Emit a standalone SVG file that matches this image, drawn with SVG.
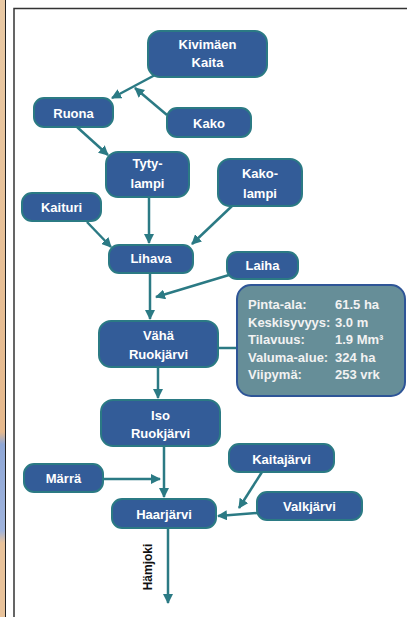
<svg xmlns="http://www.w3.org/2000/svg" width="407" height="617" viewBox="0 0 407 617">
<style>
.n{fill:#335c98;stroke:#2b7a84;stroke-width:2}
.t{font-family:"Liberation Sans",Arial,sans-serif;font-weight:bold;font-size:13px;fill:#fff;text-anchor:middle}
.c{stroke:#2b7a84;stroke-width:2.5;fill:none}
.a{marker-end:url(#ah)}
.i{font-family:"Liberation Sans",Arial,sans-serif;font-weight:bold;font-size:13px;fill:#f2f2f2}
</style>
<defs>
<marker id="ah" viewBox="0 0 10 10" refX="9" refY="5" markerWidth="4" markerHeight="4" orient="auto" markerUnits="strokeWidth">
<path d="M0,0 L10,5 L0,10 z" fill="#2b7a84"/>
</marker>
<linearGradient id="strip" x1="0" y1="0" x2="0" y2="1">
<stop offset="0" stop-color="#e9c9a4"/>
<stop offset="0.7" stop-color="#e6b98d"/>
<stop offset="0.72" stop-color="#8fa7d6"/>
<stop offset="0.86" stop-color="#9fb3dc"/>
<stop offset="0.88" stop-color="#e8c29a"/>
<stop offset="1" stop-color="#e8c29a"/>
</linearGradient>
</defs>
<rect width="407" height="617" fill="#fff"/>
<rect x="0" y="0" width="5" height="617" fill="url(#strip)"/>
<line x1="5.5" y1="0" x2="5.5" y2="617" stroke="#222" stroke-width="1"/>
<path d="M14,617 V8.5 H407" fill="none" stroke="#333" stroke-width="1.5"/>

<g id="connectors">
<line class="c a" x1="155" y1="75" x2="112" y2="98"/>
<line class="c a" x1="167" y1="115" x2="135" y2="88"/>
<line class="c a" x1="77" y1="127" x2="108" y2="155"/>
<line class="c a" x1="149" y1="197" x2="149" y2="243"/>
<line class="c a" x1="232" y1="206" x2="192" y2="244"/>
<line class="c a" x1="87" y1="222" x2="111" y2="247"/>
<line class="c a" x1="150" y1="273" x2="150" y2="319"/>
<line class="c a" x1="229" y1="275" x2="156" y2="297"/>
<line class="c" x1="218" y1="348" x2="237" y2="348"/>
<line class="c a" x1="158" y1="367" x2="158" y2="398"/>
<line class="c a" x1="164" y1="446" x2="164" y2="497"/>
<line class="c a" x1="103" y1="479" x2="160" y2="479"/>
<line class="c a" x1="262" y1="472" x2="239" y2="508"/>
<line class="c a" x1="257" y1="513" x2="218" y2="516"/>
<line class="c a" x1="168" y1="528" x2="168" y2="603"/>
</g>

<g id="kivimaen-kaita"><rect class="n" x="148" y="31" width="119" height="46" rx="12"/><text class="t" x="207.5" y="49">Kivimäen</text><text class="t" x="207.5" y="67">Kaita</text></g>
<g id="ruona"><rect class="n" x="34" y="98" width="79" height="29" rx="10"/><text class="t" x="73.5" y="118">Ruona</text></g>
<g id="kako"><rect class="n" x="167" y="108" width="84" height="29" rx="10"/><text class="t" x="209" y="128">Kako</text></g>
<g id="tyty-lampi"><rect class="n" x="106" y="152" width="83" height="45" rx="12"/><text class="t" x="147.5" y="168">Tyty-</text><text class="t" x="147.5" y="188">lampi</text></g>
<g id="kako-lampi"><rect class="n" x="218" y="159" width="84" height="47" rx="12"/><text class="t" x="260" y="178">Kako-</text><text class="t" x="260" y="198">lampi</text></g>
<g id="kaituri"><rect class="n" x="22" y="193" width="79" height="28" rx="10"/><text class="t" x="61.5" y="212">Kaituri</text></g>
<g id="lihava"><rect class="n" x="109" y="245" width="84" height="28" rx="10"/><text class="t" x="151" y="263">Lihava</text></g>
<g id="laiha"><rect class="n" x="227" y="252" width="71" height="27" rx="10"/><text class="t" x="262.5" y="270">Laiha</text></g>
<g id="info"><rect x="237" y="285" width="168" height="111" rx="14" fill="#668e98" stroke="#2e5597" stroke-width="2"/>
<text class="i" x="248" y="309">Pinta-ala:</text><text class="i" x="335" y="309">61.5 ha</text>
<text class="i" x="248" y="327">Keskisyvyys:</text><text class="i" x="335" y="327">3.0 m</text>
<text class="i" x="248" y="344">Tilavuus:</text><text class="i" x="335" y="344">1.9 Mm³</text>
<text class="i" x="248" y="362">Valuma-alue:</text><text class="i" x="335" y="362">324 ha</text>
<text class="i" x="248" y="379">Viipymä:</text><text class="i" x="335" y="379">253 vrk</text></g>
<g id="vaha-ruokjarvi"><rect class="n" x="99" y="321" width="119" height="46" rx="12"/><text class="t" x="158.5" y="340">Vähä</text><text class="t" x="158.5" y="359">Ruokjärvi</text></g>
<g id="iso-ruokjarvi"><rect class="n" x="101" y="400" width="119" height="46" rx="12"/><text class="t" x="160.5" y="420">Iso</text><text class="t" x="160.5" y="438">Ruokjärvi</text></g>
<g id="kaitajarvi"><rect class="n" x="229" y="444" width="105" height="28" rx="10"/><text class="t" x="281.5" y="464">Kaitajärvi</text></g>
<g id="marra"><rect class="n" x="24" y="464" width="79" height="28" rx="10"/><text class="t" x="63.5" y="483">Märrä</text></g>
<g id="valkjarvi"><rect class="n" x="257" y="492" width="105" height="28" rx="10"/><text class="t" x="309.5" y="511">Valkjärvi</text></g>
<g id="haarjarvi"><rect class="n" x="112" y="499" width="104" height="29" rx="10"/><text class="t" x="164" y="519">Haarjärvi</text></g>
<g id="hamjoki"><text x="0" y="0" transform="translate(152,567) rotate(-90)" font-family="Liberation Sans,Arial,sans-serif" font-weight="bold" font-size="12" fill="#111" text-anchor="middle">Hämjoki</text></g>
</svg>
